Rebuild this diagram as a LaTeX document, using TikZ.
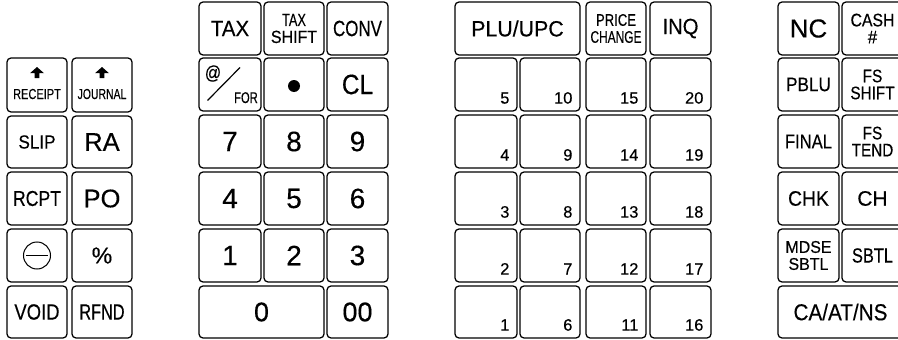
\documentclass[tikz,border=0pt]{standalone}
\usepackage{fontspec}
\usepackage{graphicx}
\setmainfont{Liberation Sans}[FakeBold=0.35]
\usetikzlibrary{arrows.meta}
\newcommand{\nar}[2]{\scalebox{#1}[1]{#2}}
\newcommand{\nv}[3]{\scalebox{#1}[#2]{#3}}
\newcommand{\kk}[7]{\node[kbox,#6, minimum width={(#4)-(#2)}, minimum height={(#5)-(#3)}] (#1) at ({((#2)+(#4))/2},{((#3)+(#5))/2}) {#7};}
\tikzset{
  kbox/.style={draw=black, line width=1.25pt, rounded corners=4pt, inner sep=0pt, align=center, text=black},
  fa/.style={font=\fontsize{22}{24}\selectfont},
  fdig/.style={font=\fontsize{28}{30}\selectfont},
  fbig/.style={font=\fontsize{25.5}{27}\selectfont},
  fmid/.style={font=\fontsize{21.5}{23}\selectfont},
  ftwo/.style={font=\fontsize{17}{17}\selectfont},
  ftwos/.style={font=\fontsize{16}{17}\selectfont},
  ftiny/.style={font=\fontsize{14.5}{15}\selectfont},
  fnum/.style={font=\fontsize{16.5}{17}\selectfont},
  numlbl/.style={fnum, inner sep=0pt, anchor=base east},
}
\newcommand{\uparr}[1]{%
  \fill ([yshift=18pt]#1.center) -- ([xshift=7pt,yshift=11.8pt]#1.center) -- ([xshift=2.3pt,yshift=11.8pt]#1.center) -- ([xshift=2.3pt,yshift=7pt]#1.center) -- ([xshift=-2.3pt,yshift=7pt]#1.center) -- ([xshift=-2.3pt,yshift=11.8pt]#1.center) -- ([xshift=-7pt,yshift=11.8pt]#1.center) -- cycle;}
\begin{document}
\begin{tikzpicture}[x=1pt,y=-1pt]
\useasboundingbox (0,0) rectangle (898,340);
\begin{scope}
\clip (0,0) rectangle (898,340);
% ---------- left group ----------
\kk{rec}{7}{58}{67}{112}{}{}
\kk{jou}{72}{58}{132}{112}{}{}
\node[ftiny, inner sep=0pt, anchor=base] (rect) at ([yshift=-14pt]rec.center) {\nar{0.76}{RECEIPT}};
\node[ftiny, inner sep=0pt, anchor=base] (jout) at ([yshift=-14pt]jou.center) {\nar{0.72}{JOURNAL}};
\uparr{rec}
\uparr{jou}

\kk{slip}{7}{116}{67}{168}{font=\fontsize{19}{20}\selectfont}{\nar{0.9}{SLIP}}
\kk{ra}{72}{116}{132}{168}{fbig}{RA}
\kk{rcpt}{7}{172}{67}{225}{fmid}{\nar{0.82}{RCPT}}
\kk{po}{72}{172}{132}{225}{fbig}{PO}
\kk{minus}{7}{229}{67}{282}{}{}
\draw[line width=1pt] (minus.center) circle (13.5);
\coordinate (m0) at ([xshift=-11pt]minus.center);
\coordinate (m1) at ([xshift=11pt]minus.center);
\draw[line width=1pt] (m0) -- (m1);
\kk{pct}{72}{229}{132}{282}{font=\fontsize{23}{24}\selectfont}{\%}
\kk{void}{7}{286}{67}{338}{font=\fontsize{22}{23}\selectfont}{\nar{0.84}{VOID}}
\kk{rfnd}{72}{286}{132}{338}{font=\fontsize{22}{23}\selectfont}{\nar{0.74}{RFND}}

% ---------- middle group ----------
\kk{tax}{199}{2}{261}{55}{fa}{\nar{0.93}{TAX}}
\kk{taxs}{264}{2}{324}{55}{ftwos}{\nv{0.8}{1.1}{TAX}\\\nv{1.0}{1.1}{SHIFT}}
\kk{conv}{327}{2}{388}{55}{fa}{\nar{0.77}{CONV}}
\kk{for}{199}{58}{261}{111}{}{}
\node[font=\fontsize{19}{20}\selectfont, inner sep=0pt] (at) at ([xshift=-17pt,yshift=11pt]for.center) {\nar{0.85}{@}};
\coordinate (s0) at ([xshift=-22.5pt,yshift=-16pt]for.center);
\coordinate (s1) at ([xshift=10pt,yshift=17pt]for.center);
\draw[line width=1.2pt] (s0) -- (s1);
\node[font=\fontsize{15.5}{16}\selectfont, inner sep=0pt, anchor=base] (fort) at ([xshift=16pt,yshift=-18.5pt]for.center) {\nar{0.72}{FOR}};
\kk{dot}{264}{58}{324}{111}{}{}
\fill ([yshift=-1.5pt]dot.center) circle (6);
\kk{cl}{327}{58}{388}{111}{fdig}{\nar{0.87}{CL}}
\kk{k7}{199}{115}{261}{168}{fdig}{7}
\kk{k8}{264}{115}{324}{168}{fdig}{8}
\kk{k9}{327}{115}{388}{168}{fdig}{9}
\kk{k4}{199}{172}{261}{225}{fdig}{4}
\kk{k5}{264}{172}{324}{225}{fdig}{5}
\kk{k6}{327}{172}{388}{225}{fdig}{6}
\kk{k1}{199}{229}{261}{282}{fdig}{1}
\kk{k2}{264}{229}{324}{282}{fdig}{2}
\kk{k3}{327}{229}{388}{282}{fdig}{3}
\kk{k0}{199}{286}{324}{338}{font=\fontsize{27}{28}\selectfont}{0}
\kk{k00}{327}{286}{388}{338}{font=\fontsize{27}{28}\selectfont}{00}

% ---------- PLU group ----------
\kk{plu}{455}{2}{580}{55}{fa}{\nar{0.97}{PLU/UPC}}
\kk{pch}{586}{2}{646}{55}{ftwos}{\nv{0.82}{1.05}{PRICE}\\\nv{0.745}{1.05}{CHANGE}}
\kk{inq}{650}{2}{711}{55}{fa}{\nar{0.92}{INQ}}
% rows
\kk{p5}{455}{58}{517}{111}{}{}
\kk{p10}{520}{58}{580}{111}{}{}
\kk{p15}{586}{58}{646}{111}{}{}
\kk{p20}{650}{58}{711}{111}{}{}
\kk{p4}{455}{115}{517}{168}{}{}
\kk{p9}{520}{115}{580}{168}{}{}
\kk{p14}{586}{115}{646}{168}{}{}
\kk{p19}{650}{115}{711}{168}{}{}
\kk{p3}{455}{172}{517}{225}{}{}
\kk{p8}{520}{172}{580}{225}{}{}
\kk{p13}{586}{172}{646}{225}{}{}
\kk{p18}{650}{172}{711}{225}{}{}
\kk{p2}{455}{229}{517}{282}{}{}
\kk{p7}{520}{229}{580}{282}{}{}
\kk{p12}{586}{229}{646}{282}{}{}
\kk{p17}{650}{229}{711}{282}{}{}
\kk{p1}{455}{286}{517}{338}{}{}
\kk{p6}{520}{286}{580}{338}{}{}
\kk{p11}{586}{286}{646}{338}{}{}
\kk{p16}{650}{286}{711}{338}{}{}
\foreach \n in {1,...,20}{
  \node[numlbl] (t\n) at ([xshift=-8pt,yshift=8pt]p\n.south east) {\n};
}

% ---------- right group ----------
\kk{nc}{778}{2}{839}{55}{font=\fontsize{26}{27}\selectfont}{NC}
\kk{cash}{842}{2}{903}{55}{ftwo}{\nv{0.93}{1.07}{CASH}\\\nv{1}{1.07}{\#}}
\kk{pblu}{778}{58}{839}{111}{font=\fontsize{19.5}{20}\selectfont}{\nar{0.88}{PBLU}}
\kk{fss}{842}{58}{903}{111}{ftwo}{\nv{0.9}{1.07}{FS}\\\nv{0.9}{1.07}{SHIFT}}
\kk{fin}{778}{115}{839}{168}{font=\fontsize{20}{21}\selectfont}{\nar{0.83}{FINAL}}
\kk{fst}{842}{115}{903}{168}{ftwo}{\nv{0.9}{1.07}{FS}\\\nv{0.9}{1.07}{TEND}}
\kk{chk}{778}{172}{839}{225}{font=\fontsize{21}{22}\selectfont}{\nar{0.92}{CHK}}
\kk{ch}{842}{172}{903}{225}{font=\fontsize{21}{22}\selectfont}{CH}
\kk{mdse}{778}{229}{839}{282}{ftwo}{\nar{0.94}{MDSE}\\\nar{0.94}{SBTL}}
\kk{sbtl}{842}{229}{903}{282}{font=\fontsize{20.5}{21}\selectfont}{\nar{0.8}{SBTL}}
\kk{caat}{778}{286}{903}{338}{font=\fontsize{23}{24}\selectfont}{\nar{0.9}{CA/AT/NS}}
\end{scope}
\end{tikzpicture}
\end{document}
